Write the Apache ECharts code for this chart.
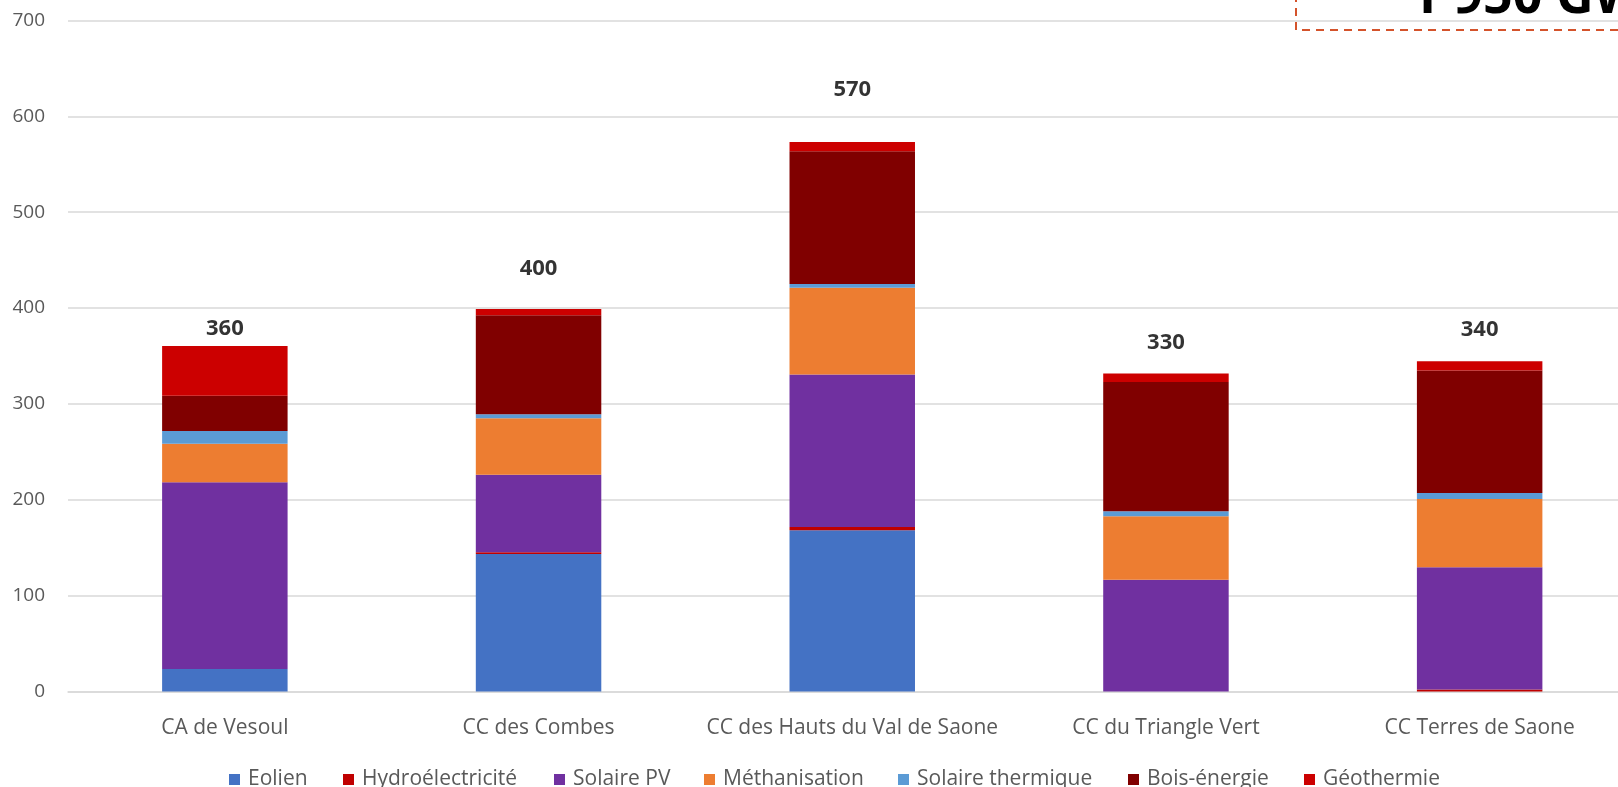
<!DOCTYPE html>
<html>
<head>
<meta charset="utf-8">
<script src="https://cdn.jsdelivr.net/npm/echarts@6/dist/echarts.min.js"></script>
<style>
  html, body { margin: 0; padding: 0; background: #ffffff; }
  #chart { width: 1618px; height: 787px; }
</style>
</head>
<body>
<div id="chart"></div>
<script>
// Renewable production by inter-municipality (GWh), stacked by source
const categories = ['CA de Vesoul', 'CC des Combes', 'CC des Hauts du Val de Saone', 'CC du Triangle Vert', 'CC Terres de Saone'];
const sourceNames = ['Eolien', 'Hydroélectricité', 'Solaire PV', 'Méthanisation', 'Solaire thermique', 'Bois-énergie', 'Géothermie'];
const eolien = [23.5, 143.4, 168.2, 0, 0];
const hydro = [0, 1.8, 3.5, 0, 2.1];
const solairePV = [194.7, 81.0, 158.9, 116.6, 127.5];
const methanisation = [40.3, 58.8, 90.7, 66.1, 71.1];
const solaireThermique = [13.3, 4.2, 3.9, 5.3, 6.3];
const boisEnergie = [36.8, 103.2, 138.5, 135.0, 127.8];
const geothermie = [51.8, 6.6, 9.6, 8.7, 9.8];
const yTicks = [0, 100, 200, 300, 400, 500, 600, 700];
const grandTotalText = '1 950 GWh';

const sourceValues = [eolien, hydro, solairePV, methanisation, solaireThermique, boisEnergie, geothermie];
const sourceColors = ['#4472C4', '#C00000', '#7030A0', '#ED7D31', '#5B9BD5', '#800000', '#CC0000'];

// Totals per category, summed from the stacked sources
const totals = categories.map((_, i) => sourceValues.reduce((s, arr) => s + arr[i], 0));
// How far each total label sits above its stack
const totalLabelLift = [17, 40, 52, 31, 31];
// Left edge of each legend entry (marker)
const legendLeft = [229, 343, 554, 704, 898, 1128, 1304];

const font = '"Open Sans", "Segoe UI", sans-serif';

const series = sourceNames.map((name, k) => ({
  name: name,
  type: 'bar',
  stack: 'total',
  barWidth: '40%',
  data: sourceValues[k],
  itemStyle: { color: sourceColors[k] },
  emphasis: { disabled: true }
}));

series.push({
  name: 'Total',
  type: 'scatter',
  symbolSize: 1,
  itemStyle: { color: 'rgba(0,0,0,0)' },
  silent: true,
  z: 5,
  data: totals.map((t, i) => ({
    value: t,
    label: { offset: [0, -totalLabelLift[i]] }
  })),
  label: {
    show: true,
    position: 'inside',
    formatter: p => String(Math.round(p.value / 10) * 10),
    fontFamily: font,
    fontWeight: 'bold',
    fontSize: 22,
    color: '#000000'
  }
});

const legends = sourceNames.map((name, k) => ({
  data: [name],
  left: legendLeft[k] - 5,
  top: 764,
  itemWidth: 11,
  itemHeight: 11,
  icon: 'rect',
  selectedMode: false,
  textStyle: { fontFamily: font, fontSize: 21, color: '#595959', padding: [0, 0, 0, 3] }
}));

const chart = echarts.init(document.getElementById('chart'), null, { renderer: 'canvas' });
chart.setOption({
  animation: false,
  backgroundColor: '#ffffff',
  // the plot area runs past the right edge of the canvas
  grid: { left: 68, width: 1568.5, top: 20.5, bottom: 95.5, containLabel: false, outerBoundsMode: 'none' },
  legend: legends,
  xAxis: {
    type: 'category',
    data: categories,
    axisTick: { show: false },
    axisLine: { lineStyle: { color: '#D9D9D9', width: 1.5 } },
    axisLabel: { interval: 0, margin: 26, fontFamily: font, fontSize: 21, color: '#595959' }
  },
  yAxis: {
    type: 'value',
    min: yTicks[0],
    max: yTicks[yTicks.length - 1],
    interval: yTicks[1] - yTicks[0],
    axisLine: { show: false },
    axisTick: { show: false },
    axisLabel: { margin: 23, fontFamily: font, fontSize: 19, color: '#595959' },
    splitLine: { lineStyle: { color: '#D9D9D9', width: 1.5 } }
  },
  series: series,
  graphic: [
    {
      type: 'rect',
      z: 10,
      silent: true,
      shape: { x: 1296, y: -80, width: 400, height: 110 },
      style: { fill: 'none', stroke: '#D4532B', lineWidth: 2, lineDash: [8, 6] }
    },
    {
      type: 'text',
      z: 11,
      silent: true,
      left: 1410,
      top: -28,
      style: {
        text: grandTotalText,
        fontFamily: font,
        fontWeight: 'bold',
        fontSize: 52,
        fill: '#000000'
      }
    }
  ]
});
</script>
</body>
</html>
